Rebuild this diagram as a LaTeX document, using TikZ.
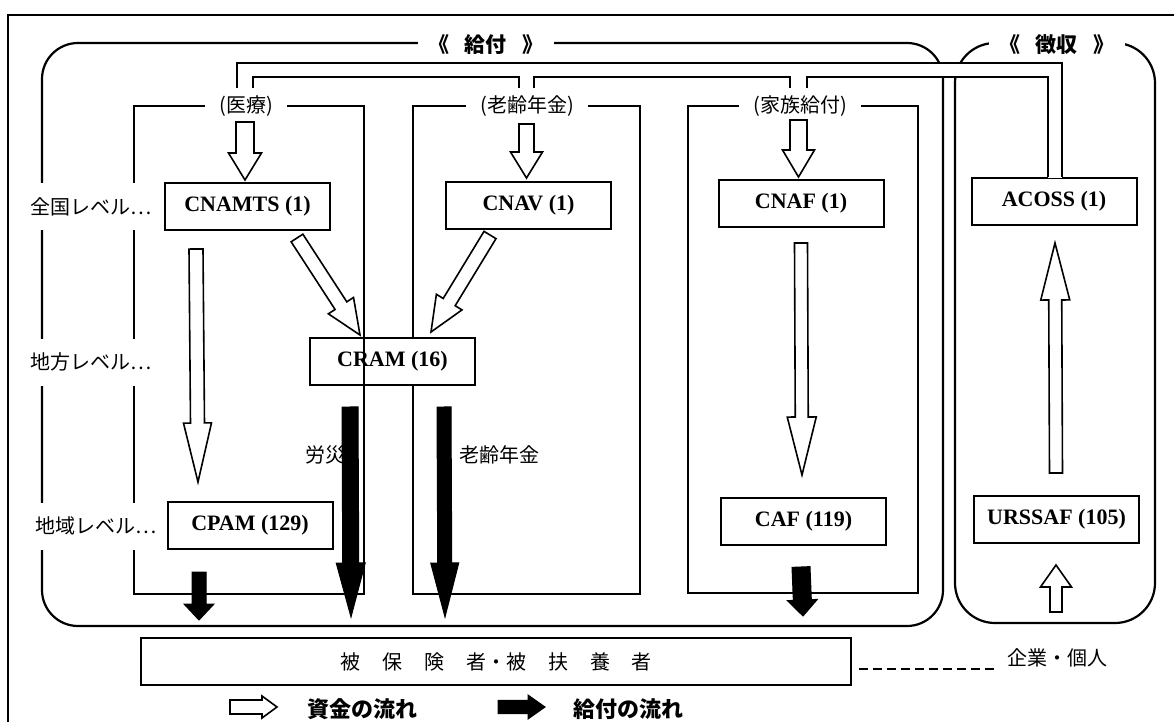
\documentclass[tikz,border=0pt]{standalone}
\usepackage{fontspec}
\setmainfont{Liberation Serif}
\newfontfamily\jp{Noto Sans CJK JP}
\usetikzlibrary{calc}
\newcommand\flowarrow[6]{%
  \coordinate (ba-a) at #2;
  \coordinate (ba-b) at #3;
  \coordinate (ba-c) at ($(ba-b)!#6!(ba-a)$);
  \draw[#1] ($(ba-a)!#4!90:(ba-b)$) -- ($(ba-c)!#4!-90:(ba-a)$) -- ($(ba-c)!#5!-90:(ba-a)$) -- (ba-b) -- ($(ba-c)!#5!90:(ba-a)$) -- ($(ba-c)!#4!90:(ba-a)$) -- ($(ba-a)!#4!-90:(ba-b)$) -- cycle;
}
\tikzset{
 frame/.style={line width=1pt},
 group/.style={line width=1.1pt},
 catbox/.style={line width=0.9pt},
 org/.style={draw, fill=white, line width=1pt, minimum width=82.5pt, minimum height=23.5pt, inner sep=0pt, font=\fontsize{11}{13}\selectfont\bfseries},
 lvl/.style={fill=white, inner xsep=2pt, inner ysep=0pt, minimum height=23.5pt, font=\jp\fontsize{10}{12}\selectfont},
 cat/.style={fill=white, inner xsep=7pt, inner ysep=2pt, font=\jp\fontsize{10}{12}\selectfont},
 head/.style={fill=white, inner xsep=5pt, inner ysep=2pt, font=\jp\bfseries\fontsize{10.5}{12}\selectfont},
 lab/.style={inner sep=1pt, font=\jp\fontsize{10}{12}\selectfont},
 legend/.style={inner sep=1pt, font=\jp\bfseries\fontsize{11}{13}\selectfont},
 fund/.style={draw, fill=white, line width=0.8pt, line join=miter},
 bene/.style={draw, fill=black, line width=0.5pt, line join=miter},
 pipe/.style={line width=1pt},
 dashline/.style={line width=1pt, dash pattern=on 4.5pt off 2.5pt},
}
\begin{document}
\begin{tikzpicture}[x=0.5pt,y=-0.5pt]
\useasboundingbox (0,0) rectangle (1174,722);
% outer frame
\draw[frame] (8,722) -- (8,15) -- (1174,15);
% group frames
\draw[group, rounded corners=18pt] (42,43) rectangle (943,626);
\draw[group, rounded corners=20pt] (955,43) rectangle (1155,623);
% category boxes (pension, family)
\draw[catbox] (413,106) rectangle (640,594);
\draw[catbox] (688,106) rectangle (918,593);
% organisation boxes
\node[org] (cnamts) at (247.5,206.5) {CNAMTS (1)};
\node[org] (cnav) at (528.5,205.5) {CNAV (1)};
\node[org] (cnaf) at (801,203.5) {CNAF (1)};
\node[org] (acoss) at (1054,201.5) {ACOSS (1)};
\node[org] (cram) at (392.5,361.5) {CRAM (16)};
% health category box (its right line crosses CRAM)
\draw[catbox] (134,106) rectangle (364,594);
\node[org] (cpam) at (250,525) {CPAM (129)};
\node[org] (caf) at (803.5,521) {CAF (119)};
\node[org] (urssaf) at (1056.5,519.5) {URSSAF (105)};
\node[org, minimum width=355pt, font=\jp\fontsize{10}{12}\selectfont] (hoken) at (496,661.5)
  {被\hspace{11pt}保\hspace{11pt}険\hspace{11pt}者・被\hspace{11pt}扶\hspace{11pt}養\hspace{11pt}者};
% pipe
\fill[white] (237,63) rectangle (1062,77);
\fill[white] (1048,63) rectangle (1062,178);
\draw[pipe] (237,88) -- (237,63) -- (1062,63) -- (acoss.north -| 1062,0);
\draw[pipe] (253,88) -- (253,77) -- (519,77) -- (519,88);
\draw[pipe] (534,88) -- (534,77) -- (790,77) -- (790,88);
\draw[pipe] (807,88) -- (807,77) -- (1048,77) -- (acoss.north -| 1048,0);
% headings
\node[head] (kyufu) at (486,45) {《\hspace{8pt}給付\hspace{8pt}》};
\node[head] (choshu) at (1057,45) {《\hspace{8pt}徴収\hspace{8pt}》};
\node[cat] (iryo) at (246,106) {(医療)};
\node[cat] (nenkin) at (527,106) {(老齢年金)};
\node[cat] (kazoku) at (800,106) {(家族給付)};
% level labels
\node[lvl] (zenkoku) at (91,207) {全国レベル…};
\node[lvl] (chiho) at (91,362) {地方レベル…};
\node[lvl] (chiiki) at (96,526) {地域レベル…};
% flow labels
\node[lab] (rosai) at (325,455) {労災};
\node[lab] (rorei) at (499,455) {老齢年金};
\node[lab] (kigyo) at (1057,658) {企業・個人};
% funding arrows (white)
\flowarrow{fund}{(245,122)}{(245,180)}{4.5pt}{8.25pt}{13.5pt}
\flowarrow{fund}{(526.5,124)}{(526.5,178)}{3.75pt}{8pt}{13pt}
\flowarrow{fund}{(798.5,120)}{(798.5,177)}{4.25pt}{8pt}{13.5pt}
\flowarrow{fund}{(196,249)}{(198,482)}{3.5pt}{7pt}{29.5pt}
\flowarrow{fund}{(297,238)}{(360,335)}{3.5pt}{7.5pt}{17.5pt}
\flowarrow{fund}{(490,235)}{(431,332)}{3.5pt}{7.5pt}{17.5pt}
\flowarrow{fund}{(801,243)}{(802,475)}{3.25pt}{7.25pt}{29pt}
\flowarrow{fund}{(1056,473)}{(1055,243)}{3.25pt}{7.25pt}{28.5pt}
\flowarrow{fund}{(1056,612)}{(1056,565)}{3pt}{7.75pt}{11pt}
% benefit arrows (black)
\flowarrow{bene}{(199,572)}{(199,620)}{3.5pt}{7.5pt}{8pt}
\flowarrow{bene}{(350,407)}{(351,617)}{4pt}{7.25pt}{27pt}
\flowarrow{bene}{(444,407)}{(445,617)}{3.5pt}{7pt}{27pt}
\flowarrow{bene}{(801,567)}{(803,616)}{4.5pt}{7.5pt}{8pt}
% dashed link
\draw[dashline] ($(hoken.east |- 0,669)+(7,0)$) -- ($(kigyo.west |- 0,669)+(-10,0)$);
% legend
\flowarrow{fund}{(230,707)}{(277,707)}{3.5pt}{5.5pt}{7.5pt}
\node[legend] (shikin) at (362,709) {資金の流れ};
\flowarrow{bene}{(498,707)}{(545,707)}{3.3pt}{6pt}{8.5pt}
\node[legend] (kyufuflow) at (628,709) {給付の流れ};
\end{tikzpicture}
\end{document}
